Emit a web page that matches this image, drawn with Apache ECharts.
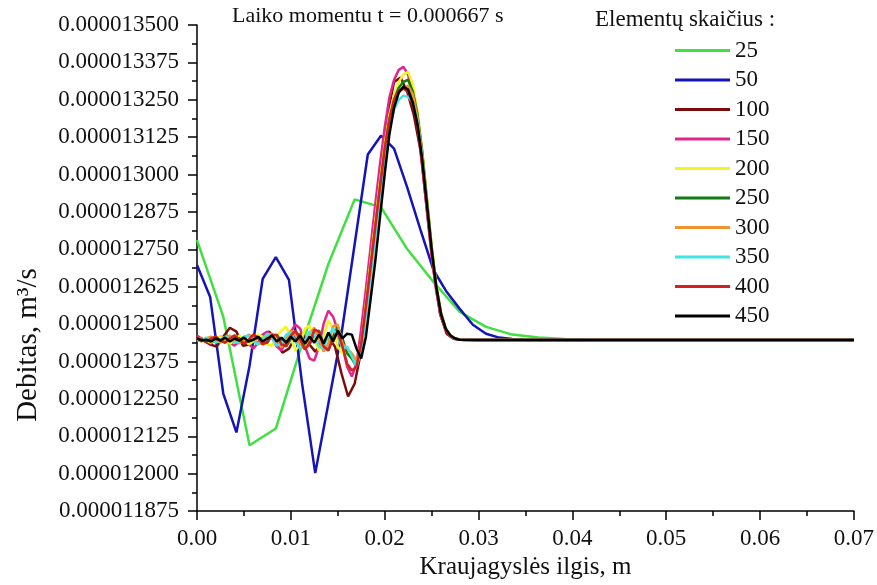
<!DOCTYPE html>
<html><head><meta charset="utf-8">
<script src="https://cdn.jsdelivr.net/npm/echarts@6/dist/echarts.min.js"></script>
<style>html,body{margin:0;padding:0;background:#fff}#c{width:877px;height:585px}</style>
</head><body><div id="c"></div>
<script>
// Flow values are in units of 1e-9 m^3/s (12447 -> 0.000012447 m^3/s); lengths in m.
const seriesNames = ['25','50','100','150','200','250','300','350','400','450'];
const seriesColors = ['#3fe03f','#1414b8','#7a0c0c','#e0268c','#f4f41e','#147a14','#f0922e','#40e6e6','#d42020','#000000'];
const xTicksLabelDigits = 2;

const x25 = [0,0.0028,0.0056,0.0084,0.0112,0.014,0.0168,0.0196,0.0224,0.0252,0.028,0.0308,0.0336,0.0364,0.0392,0.042,0.0448,0.0476,0.0504,0.0532,0.056,0.0588,0.0616,0.0644,0.0672,0.07];
const y25 = [12781,12525,12095,12151,12434,12701,12917,12891,12751,12641,12541,12491,12465,12455,12450,12447,12447,12447,12447,12447,12447,12447,12447,12447,12447,12447];

const x50 = [0,0.0014,0.0028,0.0042,0.0056,0.007,0.0084,0.0098,0.0112,0.0126,0.014,0.0154,0.0168,0.0182,0.0196,0.021,0.0224,0.0238,0.0252,0.0266,0.028,0.0294,0.0308,0.0322,0.0336,0.035,0.0364,0.07];
const y50 = [12698,12591,12268,12138,12361,12651,12724,12648,12301,12002,12235,12468,12767,13067,13130,13087,12957,12817,12681,12608,12551,12498,12468,12455,12450,12448,12447,12447];

const x100 = [0,0.0007,0.0014,0.0021,0.0028,0.0035,0.0042,0.0049,0.0056,0.0063,0.007,0.0077,0.0084,0.0091,0.0098,0.0105,0.0112,0.0119,0.0126,0.0133,0.014,0.0147,0.0154,0.0161,0.0168,0.0175,0.0182,0.0189,0.0196,0.0203,0.021,0.0217,0.0224,0.0231,0.0238,0.0245,0.0252,0.0259,0.0266,0.0273,0.028,0.0287,0.0294,0.0301,0.0308,0.0315,0.07];
const y100 = [12458,12445,12432,12425,12458,12488,12475,12428,12432,12452,12462,12475,12445,12405,12418,12458,12468,12435,12408,12435,12458,12425,12335,12258,12301,12412,12601,12791,13017,13200,13310,13324,13277,13200,13084,12884,12684,12534,12468,12452,12448,12447,12447,12447,12447,12447,12447];

const xFine = [0,0.0005,0.001,0.0015,0.002,0.0025,0.003,0.0035,0.004,0.0045,0.005,0.0055,0.006,0.0065,0.007,0.0075,0.008,0.0085,0.009,0.0095,0.01,0.0105,0.011,0.0115,0.012,0.0125,0.013,0.0135,0.014,0.0145,0.015,0.0155,0.016,0.0165,0.017,0.0175,0.018,0.0185,0.019,0.0195,0.02,0.0205,0.021,0.0215,0.022,0.0225,0.023,0.0235,0.024,0.0245,0.025,0.0255,0.026,0.0265,0.027,0.0275,0.028,0.03,0.07];

const y150 = [12462,12452,12442,12435,12448,12458,12452,12438,12428,12442,12458,12435,12418,12438,12465,12475,12455,12425,12412,12442,12475,12498,12485,12425,12385,12378,12425,12502,12545,12525,12478,12425,12358,
12325,12368,12485,12618,12757,12901,13034,13157,13257,13317,13350,13360,13334,13260,13167,13034,12877,12727,12608,12525,12482,12458,12450,12448,12447,12447];
const y200 = [12448,12455,12445,12438,12452,12458,12448,12435,12445,12462,12452,12432,12442,12465,12458,12432,12428,12458,12478,12492,12452,12412,12435,12485,12495,12445,12412,12458,12512,12485,12425,12402,12418,
12385,12368,12435,12568,12711,12844,12977,13100,13200,13267,13310,13334,13344,13300,13210,13084,12924,12767,12634,12541,12488,12465,12453,12448,12447,12447];
const y250 = [12445,12452,12442,12448,12458,12445,12438,12452,12462,12448,12435,12445,12462,12455,12435,12438,12462,12465,12442,12425,12452,12475,12458,12422,12432,12472,12478,12432,12412,12458,12492,12452,12402,
12385,12358,12425,12551,12691,12824,12957,13084,13184,13250,13290,13310,13317,13277,13200,13077,12917,12761,12628,12538,12485,12462,12452,12448,12447,12447];
const y300 = [12448,12442,12452,12458,12445,12438,12452,12462,12448,12435,12448,12465,12455,12432,12438,12465,12468,12438,12422,12452,12478,12465,12425,12418,12465,12488,12452,12408,12435,12492,12498,12435,12418,
12402,12378,12435,12551,12684,12817,12951,13077,13177,13244,13277,13290,13297,13267,13190,13067,12907,12751,12621,12534,12485,12462,12452,12448,12447,12447];
const y350 = [12448,12445,12455,12448,12438,12448,12458,12452,12438,12442,12458,12462,12442,12432,12452,12468,12455,12428,12435,12465,12472,12442,12418,12445,12475,12465,12425,12418,12462,12485,12458,12418,12425,
12392,12358,12412,12525,12658,12791,12924,13050,13150,13217,13250,13264,13260,13240,13177,13057,12901,12751,12621,12534,12485,12462,12452,12448,12447,12447];
const y400 = [12455,12448,12442,12452,12458,12445,12438,12452,12462,12448,12435,12448,12465,12455,12432,12442,12465,12462,12432,12428,12462,12478,12448,12415,12435,12482,12475,12425,12412,12452,12472,12425,12368,
12345,12358,12435,12558,12691,12824,12957,13084,13184,13250,13280,13287,13277,13237,13164,13044,12894,12744,12618,12531,12482,12462,12452,12448,12447,12447];
const y450 = [12452,12445,12448,12442,12452,12445,12455,12442,12452,12445,12455,12442,12448,12458,12442,12452,12462,12442,12455,12438,12458,12442,12462,12435,12458,12438,12465,12435,12472,12442,12478,12452,12468,
12465,12418,12385,12458,12584,12711,12857,13001,13134,13224,13274,13294,13284,13240,13167,13050,12901,12751,12624,12534,12485,12462,12452,12448,12447,12447];

const titleText = 'Laiko momentu t = 0.000667 s';
const legendTitle = 'Elementų skaičius :';
const xName = 'Kraujagyslės ilgis, m';
const yName = 'Debitas, m³/s';

const xsList = [x25,x50,x100,xFine,xFine,xFine,xFine,xFine,xFine,xFine];
const ysList = [y25,y50,y100,y150,y200,y250,y300,y350,y400,y450];

const FONT = 'Liberation Serif';
const chart = echarts.init(document.getElementById('c'));

const series = seriesNames.map((n,k)=>({
  name:n, type:'line', symbol:'none', showSymbol:false, animation:false,
  lineStyle:{width:2.5,color:seriesColors[k]}, itemStyle:{color:seriesColors[k]},
  data: xsList[k].map((x,i)=>[x, ysList[k][i]])
}));

const axisCommon = {
  axisLine:{show:true,onZero:false,lineStyle:{color:'#000',width:1.5}},
  axisTick:{show:true,length:9,lineStyle:{color:'#000',width:1.5}},
  minorTick:{show:true,splitNumber:2,length:5,lineStyle:{color:'#000',width:1.5}},
  splitLine:{show:false}
};

chart.setOption({
  animation:false,
  backgroundColor:'#fff',
  grid:{left:197,right:23,top:25,bottom:72},
  xAxis:Object.assign({type:'value',min:0,max:0.07,interval:0.01,
    axisLabel:{formatter:v=>v.toFixed(xTicksLabelDigits),fontFamily:FONT,fontSize:23,color:'#111',margin:16},
    name:xName,nameLocation:'middle',nameGap:42,
    nameTextStyle:{fontFamily:FONT,fontSize:25,color:'#111'}},axisCommon),
  yAxis:Object.assign({type:'value',min:11875,max:13500,interval:125,
    axisLabel:{formatter:v=>(v/1e9).toFixed(9),fontFamily:FONT,fontSize:23,color:'#111',margin:18}},axisCommon),
  legend:{orient:'vertical',left:675,top:39,padding:0,icon:'rect',itemWidth:55,itemHeight:3,itemGap:6.5,
    textStyle:{fontFamily:FONT,fontSize:23,lineHeight:23,color:'#111'},data:seriesNames},
  graphic:[
    {type:'text',left:232,top:5,style:{text:titleText,font:'22px '+FONT,fill:'#111'}},
    {type:'text',left:595,top:8,style:{text:legendTitle,font:'23px '+FONT,fill:'#111'}},
    {type:'text',x:28,y:345,rotation:Math.PI/2,style:{text:yName,font:'29px '+FONT,fill:'#111',align:'center',verticalAlign:'middle'}}
  ],
  series:series
});
</script></body></html>
